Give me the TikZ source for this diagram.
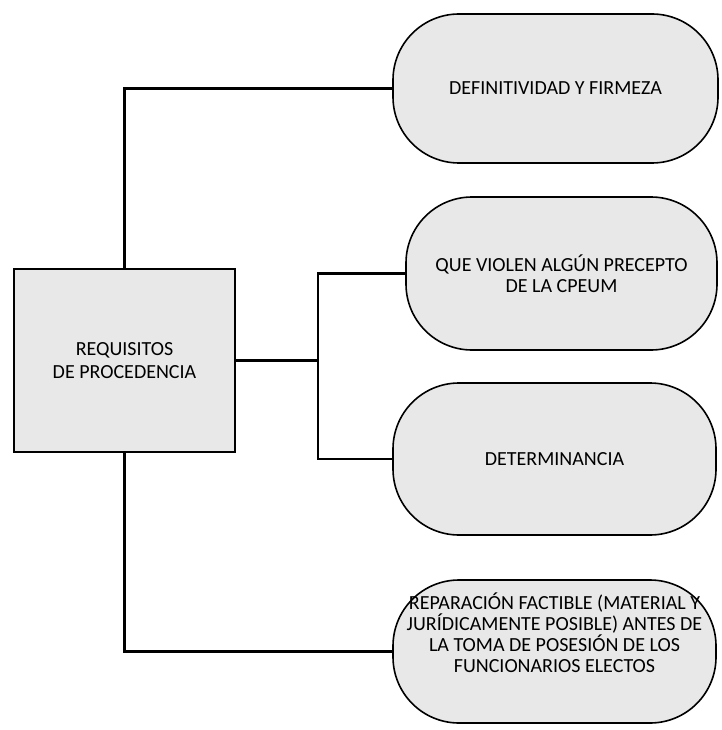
\documentclass[tikz,border=0pt]{standalone}
\usepackage{fontspec}
\setmainfont{Carlito}
\usepackage{tikz}

\begin{document}
\begin{tikzpicture}[x=1pt,y=-1pt,
  reqbox/.style={draw,line width=1.6pt,fill=black!9,minimum width=221pt,minimum height=183pt,align=center,inner sep=0pt},
  pill/.style={draw,line width=1.6pt,fill=black!9,rounded corners=66pt,align=center,inner sep=0pt},
  link/.style={line width=2.6pt}]
\useasboundingbox (0,0) rectangle (721,730);
\fontsize{20}{21}\selectfont
\node[reqbox] (req) at (124.5,360.5) {REQUISITOS\\[1.5pt]DE PROCEDENCIA};
\node[pill,minimum width=325pt,minimum height=149pt] (def) at (555.5,88.5) {DEFINITIVIDAD Y FIRMEZA};
\node[pill,minimum width=311pt,minimum height=153pt] (vio) at (561.5,273.5) {\raisebox{0pt}[14pt][0pt]{}QUE VIOLEN ALGÚN PRECEPTO\\DE LA CPEUM};
\node[pill,minimum width=323pt,minimum height=152pt] (det) at (554.5,459) {DETERMINANCIA};
\node[pill,minimum width=323pt,minimum height=143pt] (rep) at (554.5,651.5) {};
\node[align=center,inner sep=0pt] (reptxt) at (554.5,633) {REPARACIÓN FACTIBLE (MATERIAL Y\\JURÍDICAMENTE POSIBLE) ANTES DE\\LA TOMA DE POSESIÓN DE LOS\\FUNCIONARIOS ELECTOS};
\coordinate (split) at (318,360.5);
\draw[link] (req.north) |- (def.west);
\draw[link] (req.east) -- (split);
\draw[link] (split) |- (vio.west);
\draw[link] (split) |- (det.west);
\draw[link] (req.south) |- (rep.west);
\end{tikzpicture}
\end{document}
